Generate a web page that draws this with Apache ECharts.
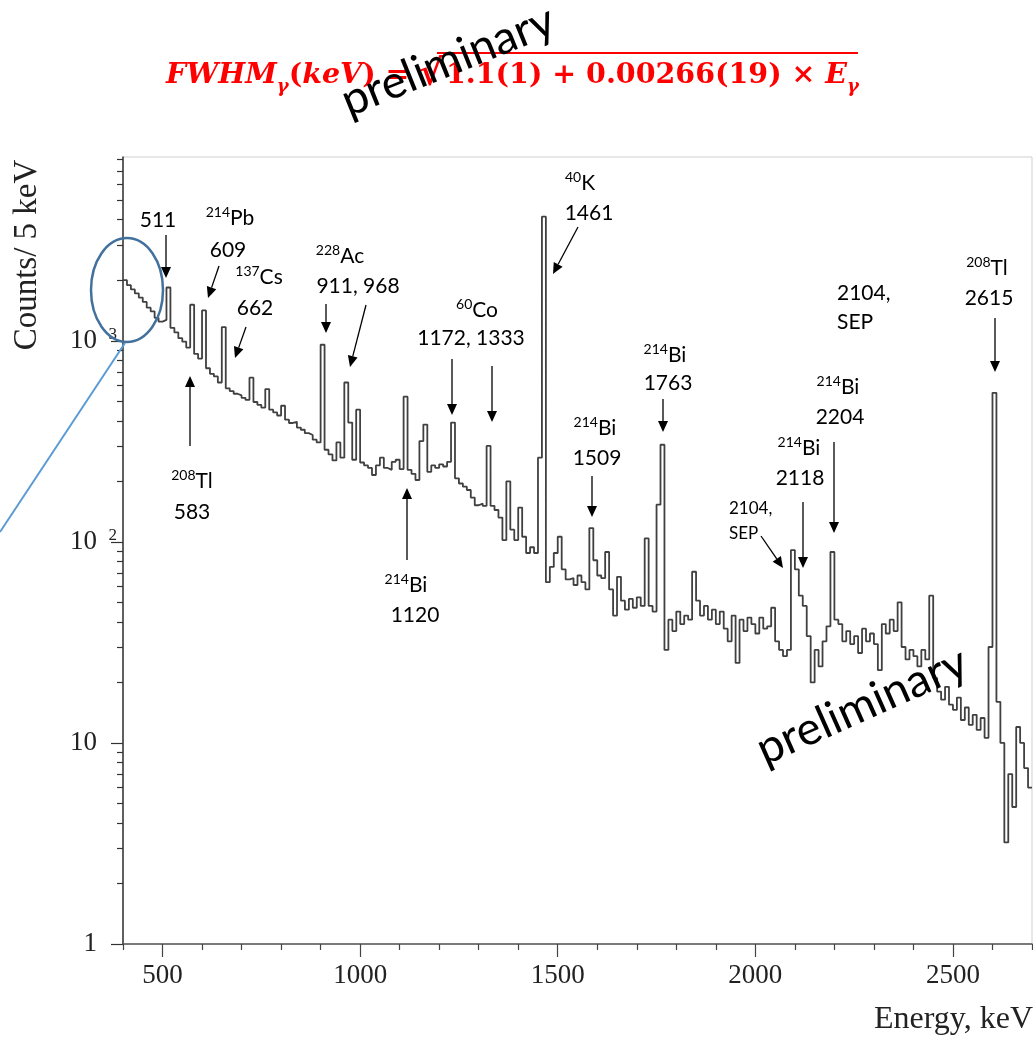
<!DOCTYPE html>
<html><head><meta charset="utf-8">
<script src="https://cdn.jsdelivr.net/npm/echarts@6/dist/echarts.min.js"></script>
<style>html,body{margin:0;padding:0;background:#fff}#c{width:1033px;height:1041px}</style>
</head><body><div id="c"></div>
<script>
// ---- data (10 keV bins, left edges from binStart) ----
const binStart = 400;
const binWidth = 10;
const counts = [
  2000, 1890, 1800, 1720, 1640, 1560, 1460, 1400, 1300, 1245,  // 400-490
  1270, 1840, 1160, 1100, 1030, 990, 925, 1510, 860, 815,       // 500-590
  1415, 730, 685, 665, 620, 1170, 580, 562, 545, 535,           // 600-690
  520, 508, 655, 496, 480, 465, 575, 454, 440, 425,             // 700-790
  475, 405, 390, 395, 370, 361, 347, 340, 322, 312,             // 800-890
  955, 287, 272, 254, 312, 262, 620, 392, 256, 454,             // 900-990
  248, 240, 233, 215, 240, 262, 233, 228, 250, 256,             // 1000-1090
  230, 527, 228, 218, 203, 317, 383, 223, 240, 233,             // 1100-1190
  243, 237, 250, 392, 207, 195, 188, 181, 166, 152,             // 1200-1290
  155, 151, 300, 151, 144, 132, 102, 200, 115, 102,             // 1300-1390
  148, 106, 88, 94, 88, 262, 4140, 63, 75, 88,                  // 1400-1490
  106, 73, 65, 66, 61, 68, 63, 58, 117, 81,                     // 1500-1590
  68, 66, 89, 58, 43, 67, 51, 46, 52, 47,                       // 1600-1690
  53, 48, 104, 48, 45, 153, 304, 29, 41, 36,                    // 1700-1790
  45, 39, 43, 41, 71, 51, 43, 48, 41, 46,                       // 1800-1890
  39, 45, 37, 32, 43, 25, 41, 36, 42, 39,                       // 1900-1990
  35, 42, 37, 38, 47, 32, 29, 27, 29, 91,                       // 2000-2090
  73, 54, 48, 34, 20, 29, 24, 32, 38, 89,                       // 2100-2190
  41, 39, 32, 36, 31, 34, 28, 37, 32, 35,                       // 2200-2290
  31, 23, 39, 35, 41, 36, 50, 30, 26, 29,                       // 2300-2390
  27, 24, 29, 26, 54, 21, 18, 16.4, 19, 15.5,                   // 2400-2490
  14.6, 16.8, 13, 15, 12.3, 13.8, 11.6, 13.3, 10.6, 30,         // 2500-2590
  551, 16, 10, 3.2, 7, 4.8, 12, 10, 7.5, 6                      // 2600-2690
];
const xTickValues = [500, 1000, 1500, 2000, 2500];
const xTickLabels = ['500', '1000', '1500', '2000', '2500'];
const yTickValues = [1, 10, 100, 1000];
const yTickLabels = [{b: '1'}, {b: '10'}, {b: '10', e: '2'}, {b: '10', e: '3'}];
const xAxisTitle = 'Energy, keV';
const yAxisTitle = 'Counts/ 5 keV';

// ---- build ----
const energies = counts.map((_, i) => binStart + i * binWidth);
const histData = energies.map((e, i) => [e, counts[i]]);
histData.push([energies[energies.length - 1] + binWidth, counts[counts.length - 1]]);

const xMinor = [];
for (let v = 400; v <= 2700; v += 100) if (v % 500 !== 0) xMinor.push(v);
const yMinor = [];
for (let k = 0; k < 4; k++) for (let m = 2; m <= 9; m++) { const v = m * Math.pow(10, k); if (v <= 8200) yMinor.push(v); }

const chart = echarts.init(document.getElementById('c'), null, {renderer: 'canvas'});

const annFont = 'Lato';
const annRich = {
  el: {fontFamily: annFont, fontSize: 21, lineHeight: 26},
  sup: {fontFamily: annFont, fontSize: 14, lineHeight: 26, verticalAlign: 'top'}
};
function txt(x, y, text, opts) {
  opts = opts || {};
  return {type: 'text', x: x, y: y, z: 100,
    style: {text: text, fill: '#000', fontFamily: annFont, fontSize: opts.size || 21,
      align: opts.align || 'center', verticalAlign: 'middle', rich: annRich}};
}
function iso(x, y, mass, sym) { return txt(x, y, '{sup|' + mass + '}{el|' + sym + '}'); }
function arrow(x1, y1, x2, y2) {
  const dx = x2 - x1, dy = y2 - y1, L = Math.hypot(dx, dy), ux = dx / L, uy = dy / L;
  const hl = 11, hw = 5;
  const bx = x2 - ux * hl, by = y2 - uy * hl;
  return [
    {type: 'line', z: 100, shape: {x1: x1, y1: y1, x2: bx, y2: by}, style: {stroke: '#000', lineWidth: 1.3}},
    {type: 'polygon', z: 100, shape: {points: [[x2, y2], [bx - uy * hw, by + ux * hw], [bx + uy * hw, by - ux * hw]]}, style: {fill: '#000'}}
  ];
}

const red = '#ff0000';
const fs = 28.5;
const titleRich = {
  i: {fontFamily: 'DejaVu Serif', fontWeight: 'bold', fontStyle: 'italic', fontSize: fs, lineHeight: 40},
  n: {fontFamily: 'DejaVu Serif', fontWeight: 'bold', fontSize: fs, lineHeight: 40},
  r: {fontFamily: 'DejaVu Serif', fontWeight: 'bold', fontSize: 36, lineHeight: 40},
  sb: {fontFamily: 'DejaVu Serif', fontWeight: 'bold', fontStyle: 'italic', fontSize: 18, lineHeight: 40, verticalAlign: 'bottom'}
};

const elements = [
  // formula
  {type: 'text', x: 443, y: 76, z: 90, style: {text: '{i|FWHM}{sb|γ}{n|(}{i|keV}{n|) = }{r|√}', fill: red, align: 'right', verticalAlign: 'middle', rich: titleRich}},
  {type: 'text', x: 446, y: 76, z: 90, style: {text: '{n|1.1(1) + 0.00266(19) × }{i|E}{sb|γ}', fill: red, align: 'left', verticalAlign: 'middle', rich: titleRich}},
  {type: 'line', z: 90, shape: {x1: 437, y1: 53, x2: 858, y2: 53}, style: {stroke: red, lineWidth: 2.2}},
  // watermarks
  {type: 'text', x: 448, y: 61, z: 110, rotation: 22 * Math.PI / 180, style: {text: 'preliminary', fill: '#000', fontFamily: 'Lato', fontSize: 46, align: 'center', verticalAlign: 'middle'}},
  {type: 'text', x: 862, y: 706, z: 110, rotation: 24 * Math.PI / 180, style: {text: 'preliminary', fill: '#000', fontFamily: 'Lato', fontSize: 46, align: 'center', verticalAlign: 'middle'}},
  // axis titles
  {type: 'text', x: 27, y: 255, rotation: Math.PI / 2, z: 100, style: {text: yAxisTitle, fill: '#222', fontFamily: 'Liberation Serif', fontSize: 33, align: 'center', verticalAlign: 'middle'}},
  {type: 'text', x: 1033, y: 1020, z: 100, style: {text: xAxisTitle, fill: '#222', fontFamily: 'Liberation Serif', fontSize: 32, align: 'right', verticalAlign: 'middle'}},
  // ellipse + pointer line
  {type: 'ellipse', z: 95, shape: {cx: 127, cy: 290, rx: 36, ry: 52}, style: {fill: 'none', stroke: '#41719c', lineWidth: 2.5}},
  {type: 'line', z: 95, shape: {x1: 125, y1: 343, x2: 0, y2: 532}, style: {stroke: '#5b9bd5', lineWidth: 2}},
  // annotations
  txt(158, 220, '511'),
  iso(230, 218, '214', 'Pb'), txt(228, 250, '609'),
  iso(259, 277, '137', 'Cs'), txt(255, 308, '662'),
  iso(340, 256, '228', 'Ac'), txt(358, 286, '911, 968'),
  iso(192, 481, '208', 'Tl'), txt(192, 512, '583'),
  iso(406, 585, '214', 'Bi'), txt(415, 615, '1120'),
  iso(477, 310, '60', 'Co'), txt(471, 338, '1172, 1333'),
  iso(580, 183, '40', 'K'), txt(589, 213, '1461'),
  iso(665, 355, '214', 'Bi'), txt(668, 383, '1763'),
  iso(595, 428, '214', 'Bi'), txt(597, 458, '1509'),
  txt(837, 293, '2104,', {align: 'left'}), txt(837, 322, 'SEP', {align: 'left'}),
  iso(987, 268, '208', 'Tl'), txt(989, 298, '2615'),
  iso(838, 387, '214', 'Bi'), txt(840, 417, '2204'),
  iso(799, 448, '214', 'Bi'), txt(800, 478, '2118'),
  txt(729, 509, '2104,', {align: 'left', size: 17}), txt(729, 534, 'SEP', {align: 'left', size: 17})
].concat(
  arrow(166, 235, 166, 278),
  arrow(219, 266, 208, 298),
  arrow(246, 327, 235, 358),
  arrow(326, 304, 326, 333),
  arrow(366, 305, 350, 367),
  arrow(190, 446, 190, 376),
  arrow(407, 560, 407, 488),
  arrow(452, 359, 452, 415),
  arrow(492, 366, 492, 422),
  arrow(578, 227, 553, 274),
  arrow(663, 399, 663, 432),
  arrow(592, 476, 592, 517),
  arrow(995, 318, 995, 372),
  arrow(834, 442, 834, 533),
  arrow(803, 502, 803, 568),
  arrow(761, 536, 783, 568)
);

const option = {
  animation: false,
  backgroundColor: '#fff',
  grid: {left: 123, right: 1, top: 157, bottom: 97, show: true, borderColor: '#cfcfcf', borderWidth: 1},
  xAxis: [
    {type: 'value', min: 400, max: 2700, position: 'bottom',
      axisLine: {show: true, lineStyle: {color: '#555', width: 1.5}},
      axisTick: {show: true, customValues: xTickValues, length: 13, inside: false, lineStyle: {color: '#444', width: 1.2}},
      axisLabel: {show: true, customValues: xTickValues, formatter: v => xTickLabels[xTickValues.indexOf(v)] || '',
        fontFamily: 'Liberation Serif', fontSize: 27, color: '#222', margin: 18},
      splitLine: {show: false}},
    {type: 'value', min: 400, max: 2700, position: 'bottom',
      axisLine: {show: false}, axisLabel: {show: false}, splitLine: {show: false},
      axisTick: {show: true, customValues: xMinor, length: 6, lineStyle: {color: '#444', width: 1.2}}}
  ],
  yAxis: [
    {type: 'log', logBase: 10, min: 1, max: 8200, position: 'left',
      axisLine: {show: true, lineStyle: {color: '#333', width: 1.5}},
      axisTick: {show: true, customValues: yTickValues, length: 12, lineStyle: {color: '#333', width: 1.2}},
      axisLabel: {show: true, customValues: yTickValues, margin: 6,
        formatter: v => { const t = yTickLabels[yTickValues.indexOf(v)]; if (!t) return ''; return t.e ? '{n|' + t.b + '}{s|' + t.e + '}' : '{n|' + t.b + '}{pad|}'; },
        rich: {
          n: {fontFamily: 'Liberation Serif', fontSize: 27, color: '#222', lineHeight: 30},
          pad: {width: 20},
          s: {fontFamily: 'Liberation Serif', fontSize: 17, color: '#222', width: 12, lineHeight: 30, verticalAlign: 'top', padding: [0, 0, 0, 8]}
        }},
      splitLine: {show: false}},
    {type: 'log', logBase: 10, min: 1, max: 8200, position: 'left',
      axisLine: {show: false}, axisLabel: {show: false}, splitLine: {show: false},
      axisTick: {show: true, customValues: yMinor, length: 6, lineStyle: {color: '#333', width: 1.2}}}
  ],
  series: [{
    type: 'line', step: 'end', xAxisIndex: 0, yAxisIndex: 0, data: histData,
    symbol: 'none', showSymbol: false, lineStyle: {color: '#404040', width: 1.8}
  }],
  graphic: {elements: elements}
};
chart.setOption(option);
</script></body></html>
